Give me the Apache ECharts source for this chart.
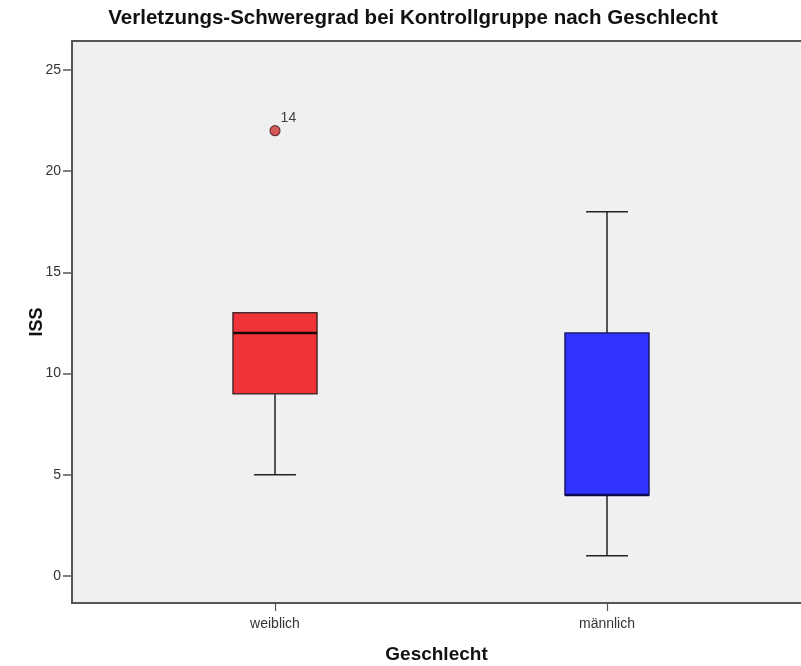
<!DOCTYPE html>
<html>
<head>
<meta charset="utf-8">
<script src="https://cdn.jsdelivr.net/npm/echarts@6/dist/echarts.min.js"></script>
<style>
  html, body { margin: 0; padding: 0; background: #fff; }
  #chart { width: 801px; height: 666px; }
</style>
</head>
<body>
<div id="chart"></div>
<script>
// ISS by sex in the control group
var categories = ['weiblich', 'männlich'];
var whiskerLow = [5, 1];
var q1 = [9, 4];
var median = [12, 4];
var q3 = [13, 12];
var whiskerHigh = [13, 18];
// outliers: [category index, value, case number]
var outliers = [[0, 22, '14']];
var yTicks = [0, 5, 10, 15, 20, 25];

// box fill / outline colours per group
var boxFill = ['#EF3339', '#3333FF'];
var boxLine = ['#4a2a2a', '#1a1a70'];
var medianLine = ['#1a0a0a', '#0a0a50'];

// category positions on the numeric x axis
var catPos = categories.map(function (_, i) { return i + 1; });
var boxHalf = 0.1265;   // half box width in axis units
var capHalf = 0.063;    // half whisker cap width

var chart = echarts.init(document.getElementById('chart'), null, { renderer: 'canvas' });

var boxData = categories.map(function (c, i) {
  return [catPos[i], whiskerLow[i], q1[i], median[i], q3[i], whiskerHigh[i], i];
});

var font = '"Liberation Sans", Arial, sans-serif';
var axisColor = '#555';

chart.setOption({
  backgroundColor: '#ffffff',
  animation: false,
  title: {
    text: 'Verletzungs-Schweregrad bei Kontrollgruppe nach Geschlecht',
    left: 413,
    textAlign: 'center',
    top: 8,
    padding: 0,
    textStyle: { fontFamily: font, fontSize: 20.5, fontWeight: 'bold', color: '#111' }
  },
  grid: {
    left: 72, top: 41, right: 0, height: 562,
    outerBoundsMode: 'none',
    show: true, backgroundColor: '#F0F0F0', borderWidth: 0
  },
  xAxis: [
    {
      type: 'value',
      min: 0.38855, max: 2.58434,
      name: 'Geschlecht',
      nameLocation: 'middle',
      nameMoveOverlap: false,
      nameGap: 42,
      nameTextStyle: { fontFamily: font, fontSize: 19, fontWeight: 'bold', color: '#111' },
      splitLine: { show: false },
      axisLine: { show: true, onZero: false, lineStyle: { color: axisColor, width: 2 } },
      axisTick: { show: true, length: 8, customValues: catPos, lineStyle: { color: axisColor, width: 1.2 } },
      axisLabel: {
        customValues: catPos,
        margin: 14,
        fontFamily: font, fontSize: 14, color: '#333',
        formatter: function (v) { return categories[Math.round(v) - 1] || ''; }
      }
    },
    {
      // plot frame along the top edge
      type: 'value',
      position: 'top',
      min: 0.38855, max: 2.58434,
      splitLine: { show: false },
      axisLine: { show: true, onZero: false, lineStyle: { color: axisColor, width: 2 } },
      axisTick: { show: false },
      axisLabel: { show: false }
    }
  ],
  yAxis: {
    type: 'value',
    min: -1.334, max: 26.43,
    name: 'ISS',
    nameLocation: 'middle',
    nameMoveOverlap: false,
    nameGap: 26,
    nameRotate: 90,
    nameTextStyle: { fontFamily: font, fontSize: 18, fontWeight: 'bold', color: '#111' },
    splitLine: { show: false },
    axisLine: { show: true, onZero: false, lineStyle: { color: axisColor, width: 2 } },
    axisTick: { show: true, length: 9, customValues: yTicks, lineStyle: { color: axisColor, width: 1.5 } },
    axisLabel: { customValues: yTicks, margin: 11, fontFamily: font, fontSize: 14, color: '#333' }
  },
  series: [
    {
      type: 'custom',
      data: boxData,
      renderItem: function (params, api) {
        var x = api.value(0);
        var idx = api.value(6);
        var pLow = api.coord([x, api.value(1)]);
        var pQ1 = api.coord([x, api.value(2)]);
        var pMed = api.coord([x, api.value(3)]);
        var pQ3 = api.coord([x, api.value(4)]);
        var pHigh = api.coord([x, api.value(5)]);
        var left = api.coord([x - boxHalf, 0])[0];
        var right = api.coord([x + boxHalf, 0])[0];
        var cl = api.coord([x - capHalf, 0])[0];
        var cr = api.coord([x + capHalf, 0])[0];
        var wStyle = { stroke: '#222', lineWidth: 1.5 };
        var children = [];
        // whiskers and caps are only drawn where they extend beyond the box
        if (api.value(1) < api.value(2)) {
          children.push({ type: 'line', shape: { x1: pLow[0], y1: pLow[1], x2: pQ1[0], y2: pQ1[1] }, style: wStyle });
          children.push({ type: 'line', shape: { x1: cl, y1: pLow[1], x2: cr, y2: pLow[1] }, style: wStyle });
        }
        if (api.value(5) > api.value(4)) {
          children.push({ type: 'line', shape: { x1: pQ3[0], y1: pQ3[1], x2: pHigh[0], y2: pHigh[1] }, style: wStyle });
          children.push({ type: 'line', shape: { x1: cl, y1: pHigh[1], x2: cr, y2: pHigh[1] }, style: wStyle });
        }
        children.push({
          type: 'rect',
          shape: { x: left, y: pQ3[1], width: right - left, height: pQ1[1] - pQ3[1] },
          style: { fill: boxFill[idx], stroke: boxLine[idx], lineWidth: 1.5 }
        });
        children.push({
          type: 'line',
          shape: { x1: left, y1: pMed[1], x2: right, y2: pMed[1] },
          style: { stroke: medianLine[idx], lineWidth: 2.5 }
        });
        return { type: 'group', children: children };
      },
      z: 3
    },
    {
      type: 'scatter',
      data: outliers.map(function (o) { return { value: [catPos[o[0]], o[1]], name: o[2] }; }),
      symbol: 'circle',
      symbolSize: 10,
      itemStyle: { color: '#CF3535', borderColor: '#4a1a1a', borderWidth: 1.2 },
      label: {
        show: true,
        formatter: function (p) { return p.name; },
        position: 'right',
        offset: [-5, -13],
        fontFamily: font, fontSize: 14, color: '#111'
      },
      z: 4
    }
  ]
});
</script>
</body>
</html>
